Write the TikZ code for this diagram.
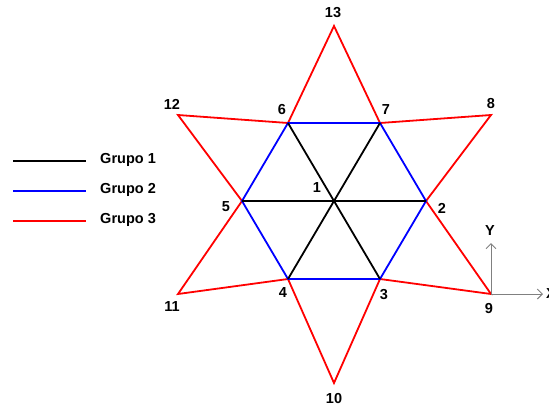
\documentclass[tikz,border=0pt]{standalone}
\usepackage{fontspec}
\setmainfont{Liberation Sans}
\usepackage{tikz}
\usetikzlibrary{arrows}
\usetikzlibrary{arrows.meta}

\begin{document}
\begin{tikzpicture}[x=1pt,y=-1pt,line width=1.8pt,
    lbl/.style={font=\fontsize{14.5}{16}\selectfont\bfseries},
    axis/.style={-{Straight Barb[length=5pt,width=10pt]},gray,line width=1pt}]
        \useasboundingbox (0,0) rectangle (549,408);
        % joints
        \foreach \n/\x/\y in {1/334/201,2/426/201,3/380/279,4/288/279,5/242/201,6/288/123,7/380/123,
                              8/491/115,9/491/294,10/334/383,11/178/294,12/178/115,13/334/26}{
            \coordinate (p\n) at (\x,\y);
        }
        % numbers
        \foreach \n/\x/\y in {1/317/188,2/442/208,3/384/295,4/283/293,5/226/207,6/282/110,7/386/110,
                              8/491/104,9/489/309,10/334/399,11/172/307,12/172/104,13/333/13}{
            \node[lbl] (t\n) at (\x,\y) {\n};
        }
        % grupo 3
        \draw[red] (p13) -- (p7) -- (p8) -- (p2) -- (p9) -- (p3) -- (p10) -- (p4) -- (p11) -- (p5) -- (p12) -- (p6) -- cycle;
        % grupo 2
        \draw[blue] (p2) -- (p3) -- (p4) -- (p5) -- (p6) -- (p7) -- cycle;
        % grupo 1
        \draw[black] (p5) -- (p1) -- (p2);
        \draw[black] (p6) -- (p1) -- (p3);
        \draw[black] (p7) -- (p1) -- (p4);
        % axes
        \coordinate (ax) at (543,294);
        \coordinate (ay) at (491,243);
        \draw[axis] (p9) -- (ax);
        \draw[axis] (p9) -- (ay);
        \node[lbl] (tx) at (551,294) {X};
        \node[lbl] (ty) at (490,231) {Y};
        % legend
        \foreach \i/\c/\y in {1/black/161,2/blue/191,3/red/221}{
            \coordinate (a\i) at (13,\y);
            \coordinate (b\i) at (86,\y);
            \draw[\c] (a\i) -- (b\i);
            \node[lbl,anchor=west] (g\i) at (96,\y-1) {Grupo \i};
        }
    \end{tikzpicture}
\end{document}
